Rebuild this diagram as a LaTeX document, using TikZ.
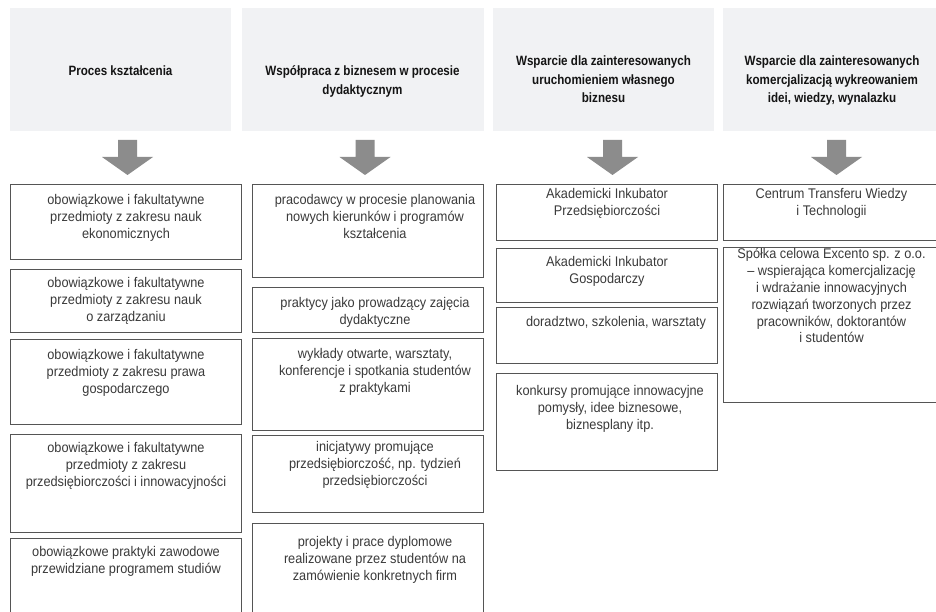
\documentclass[tikz,border=0pt]{standalone}
\usepackage{fontspec}
\setmainfont{Liberation Sans}[FakeStretch=0.91]
\newfontfamily\hdfont{Liberation Sans}[FakeStretch=0.86]
\definecolor{hdfill}{HTML}{F1F2F4}
\definecolor{arrowgray}{HTML}{8C8C8C}
\definecolor{boxgray}{HTML}{555555}
\definecolor{txtgray}{HTML}{3A3A3A}
\newcommand\mybox[8]{%
  \node[box, minimum width={#4-#2}, minimum height={#5-#3}] (#1) at (#2,#3) {};
  \node[bodytext] (#1t) at (#6,{#7-6.6}) {#8};
}
\newcommand\dnarrow[1]{%
  \fill[blockarrow] ({#1-9.5},140) -- ({#1+9.5},140) -- ({#1+9.5},157) -- ({#1+25.5},157)
    -- (#1,175) -- ({#1-25.5},157) -- ({#1-9.5},157) -- cycle;
}
\begin{document}
\begin{tikzpicture}[x=1pt,y=-1pt,
  header/.style={fill=hdfill, draw=none, inner sep=0pt, anchor=north west},
  hdtext/.style={font=\hdfont\bfseries\fontsize{13.5}{18.5}\selectfont, text=black!92, align=center, inner sep=0pt, anchor=north},
  box/.style={draw=boxgray, line width=1pt, inner sep=0pt, anchor=north west},
  bodytext/.style={font=\fontsize{14}{16.8}\selectfont, text=txtgray, align=center, inner sep=0pt, anchor=north},
  blockarrow/.style={fill=arrowgray, draw=none}]
\useasboundingbox (0,0) rectangle (936,612);
\clip (0,0) rectangle (936,612);
\fill[white] (0,0) rectangle (936,612);

% headers
\node[header, minimum width=221, minimum height=123] (h1) at (10,8) {};
\node[header, minimum width=242, minimum height=123] (h2) at (242,8) {};
\node[header, minimum width=221, minimum height=123] (h3) at (493,8) {};
\node[header, minimum width=218, minimum height=123] (h4) at (723,8) {};
\node[hdtext] (h1t) at (120.5,65.7) {Proces kształcenia};
\node[hdtext] (h2t) at (362.5,65.7) {Współpraca z biznesem w procesie\\dydaktycznym};
\node[hdtext] (h3t) at (603.5,55.7) {Wsparcie dla zainteresowanych\\uruchomieniem własnego\\biznesu};
\node[hdtext] (h4t) at (832,55.7) {Wsparcie dla zainteresowanych\\komercjalizacją wykreowaniem\\idei, wiedzy, wynalazku};

% arrows
\dnarrow{127.5}
\dnarrow{365}
\dnarrow{612.5}
\dnarrow{836.5}

% column 1
\mybox{a1}{10}{184}{241}{259}{126}{201}{obowiązkowe i fakultatywne\\przedmioty z zakresu nauk\\ekonomicznych}
\mybox{a2}{10}{269}{241}{332}{126}{284}{obowiązkowe i fakultatywne\\przedmioty z zakresu nauk\\o zarządzaniu}
\mybox{a3}{10}{339}{241}{424}{126}{356}{obowiązkowe i fakultatywne\\przedmioty z zakresu prawa\\gospodarczego}
\mybox{a4}{10}{434}{241}{532}{126}{449}{obowiązkowe i fakultatywne\\przedmioty z zakresu\\przedsiębiorczości i innowacyjności}
\mybox{a5}{10}{538}{241}{625}{126}{553}{obowiązkowe praktyki zawodowe\\przewidziane programem studiów}

% column 2
\mybox{b1}{252}{184}{483}{277}{375}{201}{pracodawcy w procesie planowania\\nowych kierunków i programów\\kształcenia}
\mybox{b2}{252}{287}{483}{332}{375}{304}{praktycy jako prowadzący zajęcia\\dydaktyczne}
\mybox{b3}{252}{338}{483}{430}{375}{355}{wykłady otwarte, warsztaty,\\konferencje i spotkania studentów\\z praktykami}
\mybox{b4}{252}{435}{483}{512}{375}{448}{inicjatywy promujące\\przedsiębiorczość, np. tydzień\\przedsiębiorczości}
\mybox{b5}{252}{523}{483}{625}{375}{543}{projekty i prace dyplomowe\\realizowane przez studentów na\\zamówienie konkretnych firm}

% column 3
\mybox{c1}{496}{184}{717}{240}{607}{195}{Akademicki Inkubator\\Przedsiębiorczości}
\mybox{c2}{496}{248}{717}{302}{607}{263}{Akademicki Inkubator\\Gospodarczy}
\mybox{c3}{496}{307}{717}{363}{616}{323}{doradztwo, szkolenia, warsztaty}
\mybox{c4}{496}{373}{717}{470}{610}{392}{konkursy promujące innowacyjne\\pomysły, idee biznesowe,\\biznesplany itp.}

% column 4
\mybox{d1}{723}{184}{944}{240}{831.5}{195}{Centrum Transferu Wiedzy\\i Technologii}
\mybox{d2}{723}{247}{944}{402}{831.5}{255}{Spółka celowa Excento sp. z o.o.\\– wspierająca komercjalizację\\i wdrażanie innowacyjnych\\rozwiązań tworzonych przez\\pracowników, doktorantów\\i studentów}
\end{tikzpicture}
\end{document}
